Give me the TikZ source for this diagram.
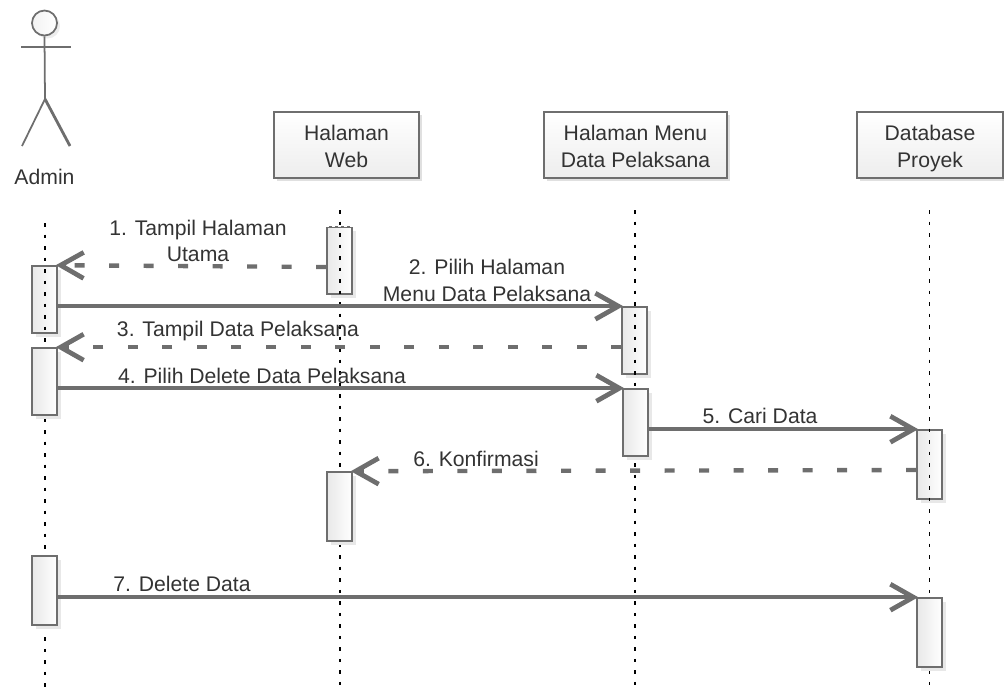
\documentclass[tikz,border=0pt]{standalone}
\usepackage{fontspec}
\setmainfont{Liberation Sans}
\usepackage{xcolor}
\usetikzlibrary{arrows.meta,shadows}
\definecolor{lineGray}{HTML}{6E6E6E}
\definecolor{textGray}{HTML}{333333}

\tikzset{
  labelText/.style={text=textGray, font=\fontsize{6.02}{7.5}\selectfont, align=center, inner sep=0pt},
  objBox/.style={labelText, draw=lineGray, line width=0.45pt, top color=white, bottom color=black!7,
    minimum height=0.66cm, text height=12.6pt, text depth=0pt,
    general shadow={fill=black!12, shadow xshift=0.03cm, shadow yshift=-0.03cm}},
  actBar/.style={draw=lineGray, line width=0.45pt, left color=black!9, right color=white,
    minimum width=0.25cm, minimum height=0.67cm, inner sep=0pt,
    general shadow={fill=black!9, shadow xshift=0.04cm, shadow yshift=-0.04cm}},
  lifeLine/.style={black, line width=0.5pt, dash pattern=on 0.035cm off 0.08cm},
  msgCall/.style={lineGray, line width=1.25pt, shorten >=-0.02cm,
    -{Straight Barb[length=0.23cm,width=0.26cm,line width=1.35pt]}},
  msgReply/.style={msgCall, dash pattern=on 0.1cm off 0.245cm},
  stickLine/.style={lineGray, line width=0.5pt}
}

\begin{document}
\begin{tikzpicture}[x=0.01cm, y=-0.01cm]
\useasboundingbox (0,0) rectangle (1004,693);

% Actor
\node[draw=lineGray, line width=0.5pt, circle, minimum size=0.25cm, inner sep=0pt, left color=black!5, right color=white,
  general shadow={fill=black!7, shadow xshift=0.03cm, shadow yshift=-0.03cm}] (adminHead) at (44.5,23) {};
\coordinate (adminArmL) at (21,47);
\coordinate (adminArmR) at (71,47);
\coordinate (adminHip) at (45,99);
\coordinate (adminFootL) at (22,146);
\coordinate (adminFootR) at (70,146);
\draw[stickLine] (adminHead.south) -- (adminHip);
\draw[stickLine] (adminArmL) -- (adminArmR);
\draw[stickLine] (adminFootL) -- (adminHip);
\draw[stickLine, line width=0.8pt] (adminHip) -- (adminFootR);
\node[labelText] (adminName) at (44.5,176.5) {Admin};

% Objects
\node[objBox, minimum width=1.45cm] (webBox) at (346.5,145) {Halaman\\Web};
\node[objBox, minimum width=1.83cm] (menuBox) at (635.5,145) {Halaman Menu\\Data Pelaksana};
\node[objBox, minimum width=1.46cm] (dbBox) at (930,145) {Database\\Proyek};

% Activation bars under the lifelines
\node[actBar] (adminBarA) at (44.5,299.5) {};
\node[actBar] (webBarA) at (339.5,260.5) {};
\node[actBar] (menuBarA) at (634.5,340.5) {};
\node[actBar, minimum height=0.69cm] (dbBarA) at (929.5,464.5) {};
\draw[white, line width=0.5pt, dash pattern=on 0.03cm off 0.03cm] (webBarA.north west) -- (webBarA.north east);

% Lifelines
\coordinate (adminTop) at (45,223);
\coordinate (adminEnd) at (45,688);
\coordinate (webTop) at (340,210);
\coordinate (webEnd) at (340,693);
\coordinate (menuTop) at (635,210);
\coordinate (menuEnd) at (635,693);
\coordinate (dbTop) at (929.5,210);
\coordinate (dbEnd) at (929.5,693);
\draw[lifeLine] (adminTop) -- (adminEnd);
\draw[lifeLine] (webTop) -- (webEnd);
\draw[lifeLine] (menuTop) -- (menuEnd);
\draw[lifeLine] (dbTop) -- (dbEnd);

% Activation bars over the lifelines
\node[actBar] (adminBarB) at (44.5,381.5) {};
\node[actBar, minimum height=0.69cm] (adminBarC) at (44.5,590.5) {};
\node[actBar, minimum height=0.69cm] (webBarB) at (339.5,506.5) {};
\node[actBar] (menuBarB) at (635.5,422.5) {};
\node[actBar, minimum height=0.69cm] (dbBarB) at (929.5,632.5) {};

% Messages
\draw[msgReply] (webBarA.west |- 0,267) -- (adminBarA.north east);
\draw[msgCall] (adminBarA.east |- menuBarA.north) -- (menuBarA.north west);
\draw[msgReply] (menuBarA.west |- adminBarB.north) -- (adminBarB.north east);
\draw[msgCall] (adminBarB.east |- menuBarB.north) -- (menuBarB.north west);
\draw[msgCall] (menuBarB.east |- dbBarA.north) -- (dbBarA.north west);
\draw[msgReply] (dbBarA.west |- 0,470) -- (webBarB.north east);
\draw[msgCall] (adminBarC.east |- dbBarB.north) -- (dbBarB.north west);

% Message labels
\node[labelText] (msgOne) at (198,241) {1. Tampil Halaman\\Utama};
\node[labelText] (msgTwo) at (487,280.5) {2. Pilih Halaman\\Menu Data Pelaksana};
\node[labelText] (msgThree) at (238,331) {3. Tampil Data Pelaksana};
\node[labelText] (msgFour) at (262,376) {4. Pilih Delete Data Pelaksana};
\node[labelText] (msgFive) at (760,416) {5. Cari Data};
\node[labelText] (msgSix) at (476,459) {6. Konfirmasi};
\node[labelText] (msgSeven) at (182,584) {7. Delete Data};
\end{tikzpicture}
\end{document}
